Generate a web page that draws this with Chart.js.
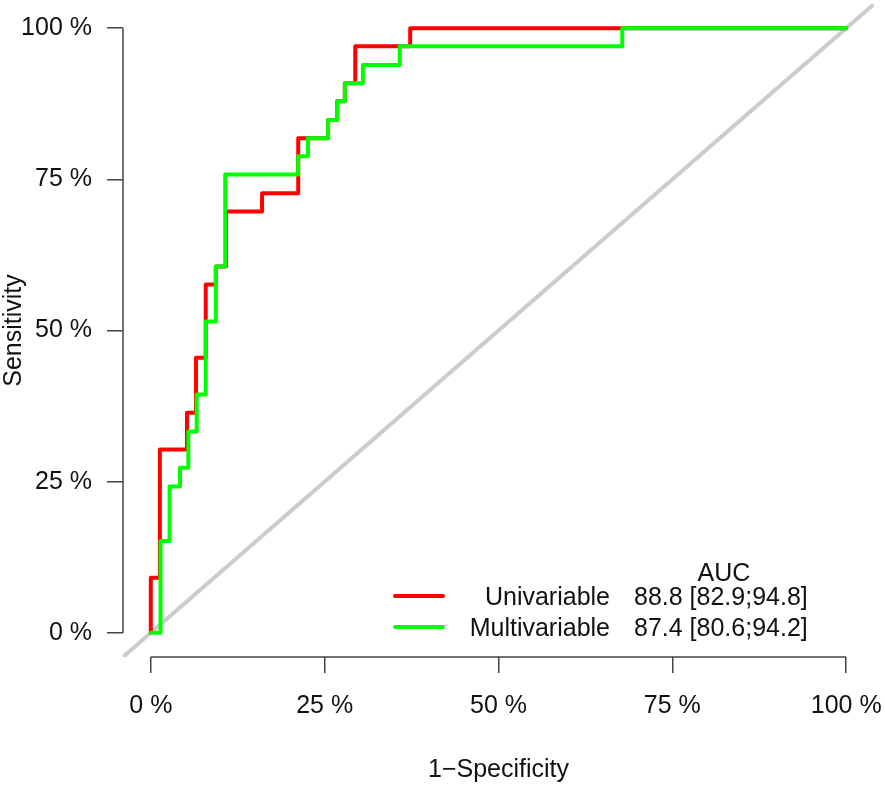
<!DOCTYPE html>
<html>
<head>
<meta charset="utf-8">
<script src="https://cdn.jsdelivr.net/npm/chart.js@4.4.1/dist/chart.umd.min.js"></script>
<style>
  html, body { margin: 0; padding: 0; background: #ffffff; }
  #wrap { width: 885px; height: 787px; position: relative; }
</style>
</head>
<body>
<div id="wrap"><canvas id="c"></canvas></div>
<script>
// ---- data (percent) ----
const tickValues = [0, 25, 50, 75, 100];
const tickLabels = ['0 %', '25 %', '50 %', '75 %', '100 %'];

const uniFpr = [0, 0, 1.3, 1.3, 5.2, 5.2, 6.5, 6.5, 7.9, 7.9, 9.35, 9.35, 10.8, 10.8, 16.0, 16.0, 21.2, 21.2, 25.5, 25.5, 26.8, 26.8, 27.9, 27.9, 29.4, 29.4, 37.3, 37.3, 100];
const uniTpr = [0, 9.09, 9.09, 30.3, 30.3, 36.4, 36.4, 45.5, 45.5, 57.6, 57.6, 60.6, 60.6, 69.7, 69.7, 72.7, 72.7, 81.8, 81.8, 84.8, 84.8, 87.9, 87.9, 90.9, 90.9, 97.0, 97.0, 100, 100];

const multiFpr = [0, 1.4, 1.4, 2.7, 2.7, 4.2, 4.2, 5.4, 5.4, 6.6, 6.6, 7.9, 7.9, 9.35, 9.35, 10.7, 10.7, 21.2, 21.2, 22.6, 22.6, 25.5, 25.5, 26.8, 26.8, 27.9, 27.9, 30.5, 30.5, 35.8, 35.8, 67.8, 67.8, 100];
const multiTpr = [0, 0, 15.2, 15.2, 24.2, 24.2, 27.3, 27.3, 33.3, 33.3, 39.4, 39.4, 51.5, 51.5, 60.6, 60.6, 75.8, 75.8, 78.8, 78.8, 81.8, 81.8, 84.8, 84.8, 87.9, 87.9, 90.9, 90.9, 93.9, 93.9, 97.0, 97.0, 100, 100];

const diagX = [-4, 104];
const diagY = [-4, 104];

const seriesNames = ['Univariable', 'Multivariable'];
const aucHeader = 'AUC';
const aucTexts = ['88.8 [82.9;94.8]', '87.4 [80.6;94.2]'];
const seriesColors = ['#ff0000', '#00ff00'];

const xTitle = '1\u2212Specificity';
const yTitle = 'Sensitivity';

// ---- helpers ----
const FONT = '"Liberation Sans", Arial, Helvetica, sans-serif';
const toPts = (xs, ys) => xs.map((x, i) => ({ x: x, y: ys[i] }));

const axisPlugin = {
  id: 'rAxes',
  afterDraw(chart) {
    const ctx = chart.ctx;
    const xs = chart.scales.x, ys = chart.scales.y;
    const ca = chart.chartArea;
    ctx.save();
    ctx.strokeStyle = '#444444';
    ctx.lineWidth = 1.5;
    ctx.lineCap = 'butt';
    // y axis line
    ctx.beginPath();
    ctx.moveTo(ca.left, ys.getPixelForValue(tickValues[0]));
    ctx.lineTo(ca.left, ys.getPixelForValue(tickValues[tickValues.length - 1]));
    ctx.stroke();
    // x axis line
    ctx.beginPath();
    ctx.moveTo(xs.getPixelForValue(tickValues[0]), ca.bottom);
    ctx.lineTo(xs.getPixelForValue(tickValues[tickValues.length - 1]), ca.bottom);
    ctx.stroke();

    // legend
    ctx.font = '25px ' + FONT;
    ctx.fillStyle = '#111111';
    ctx.textBaseline = 'middle';
    ctx.textAlign = 'center';
    ctx.fillText(aucHeader, 724, 574);
    const rows = [598, 629];
    for (let i = 0; i < seriesNames.length; i++) {
      ctx.strokeStyle = seriesColors[i];
      ctx.lineWidth = 4;
      ctx.lineCap = 'round';
      ctx.beginPath();
      ctx.moveTo(395, rows[i] - 2);
      ctx.lineTo(443, rows[i] - 2);
      ctx.stroke();
      ctx.textAlign = 'right';
      ctx.fillText(seriesNames[i], 610, rows[i]);
      ctx.textAlign = 'left';
      ctx.fillText(aucTexts[i], 634, rows[i]);
    }
    ctx.restore();
  }
};

const fixedTicks = (scale) => {
  scale.ticks = tickValues.map(v => ({ value: v }));
};
const zeroPad = (s) => {
  s.paddingLeft = 0; s.paddingRight = 0; s.paddingTop = 0; s.paddingBottom = 0;
};

new Chart(document.getElementById('c'), {
  type: 'scatter',
  data: {
    datasets: [
      {
        label: seriesNames[1],
        data: toPts(multiFpr, multiTpr),
        showLine: true,
        borderColor: seriesColors[1],
        backgroundColor: seriesColors[1],
        borderWidth: 4,
        pointRadius: 0,
        borderJoinStyle: 'round',
        borderCapStyle: 'round',
        order: 0
      },
      {
        label: seriesNames[0],
        data: toPts(uniFpr, uniTpr),
        showLine: true,
        borderColor: seriesColors[0],
        backgroundColor: seriesColors[0],
        borderWidth: 4,
        pointRadius: 0,
        borderJoinStyle: 'round',
        borderCapStyle: 'round',
        order: 1
      },
      {
        label: 'diag',
        data: toPts(diagX, diagY),
        showLine: true,
        borderColor: '#cccccc',
        borderWidth: 4,
        pointRadius: 0,
        order: 2
      }
    ]
  },
  options: {
    responsive: true,
    maintainAspectRatio: false,
    animation: false,
    events: [],
    layout: { padding: { left: 0, top: 4, right: 11, bottom: 0 } },
    plugins: { legend: { display: false }, tooltip: { enabled: false } },
    scales: {
      x: {
        type: 'linear',
        min: -4, max: 104,
        afterBuildTicks: fixedTicks,
        afterFit: (s) => { s.height = 130; zeroPad(s); },
        border: { display: false },
        grid: { display: true, drawOnChartArea: false, drawTicks: true, tickLength: 16, color: '#444444', lineWidth: 1.5 },
        ticks: {
          padding: 18,
          maxRotation: 0,
          autoSkip: false,
          color: '#111111',
          font: { family: FONT, size: 25 },
          callback: (v) => tickLabels[tickValues.indexOf(v)]
        },
        title: {
          display: true,
          text: xTitle,
          color: '#111111',
          font: { family: FONT, size: 25, lineHeight: 1.1 },
          padding: { top: 0, bottom: 3 }
        }
      },
      y: {
        type: 'linear',
        min: -4, max: 104,
        afterBuildTicks: fixedTicks,
        afterFit: (s) => { s.width = 123; zeroPad(s); },
        border: { display: false },
        grid: { display: true, drawOnChartArea: false, drawTicks: true, tickLength: 16, color: '#444444', lineWidth: 1.5 },
        ticks: {
          padding: 15,
          autoSkip: false,
          color: '#111111',
          font: { family: FONT, size: 25 },
          callback: (v) => tickLabels[tickValues.indexOf(v)]
        },
        title: {
          display: true,
          text: yTitle,
          color: '#111111',
          font: { family: FONT, size: 25, lineHeight: 1.1 },
          padding: { top: 0, bottom: 0 }
        }
      }
    }
  },
  plugins: [axisPlugin]
});
</script>
</body>
</html>
